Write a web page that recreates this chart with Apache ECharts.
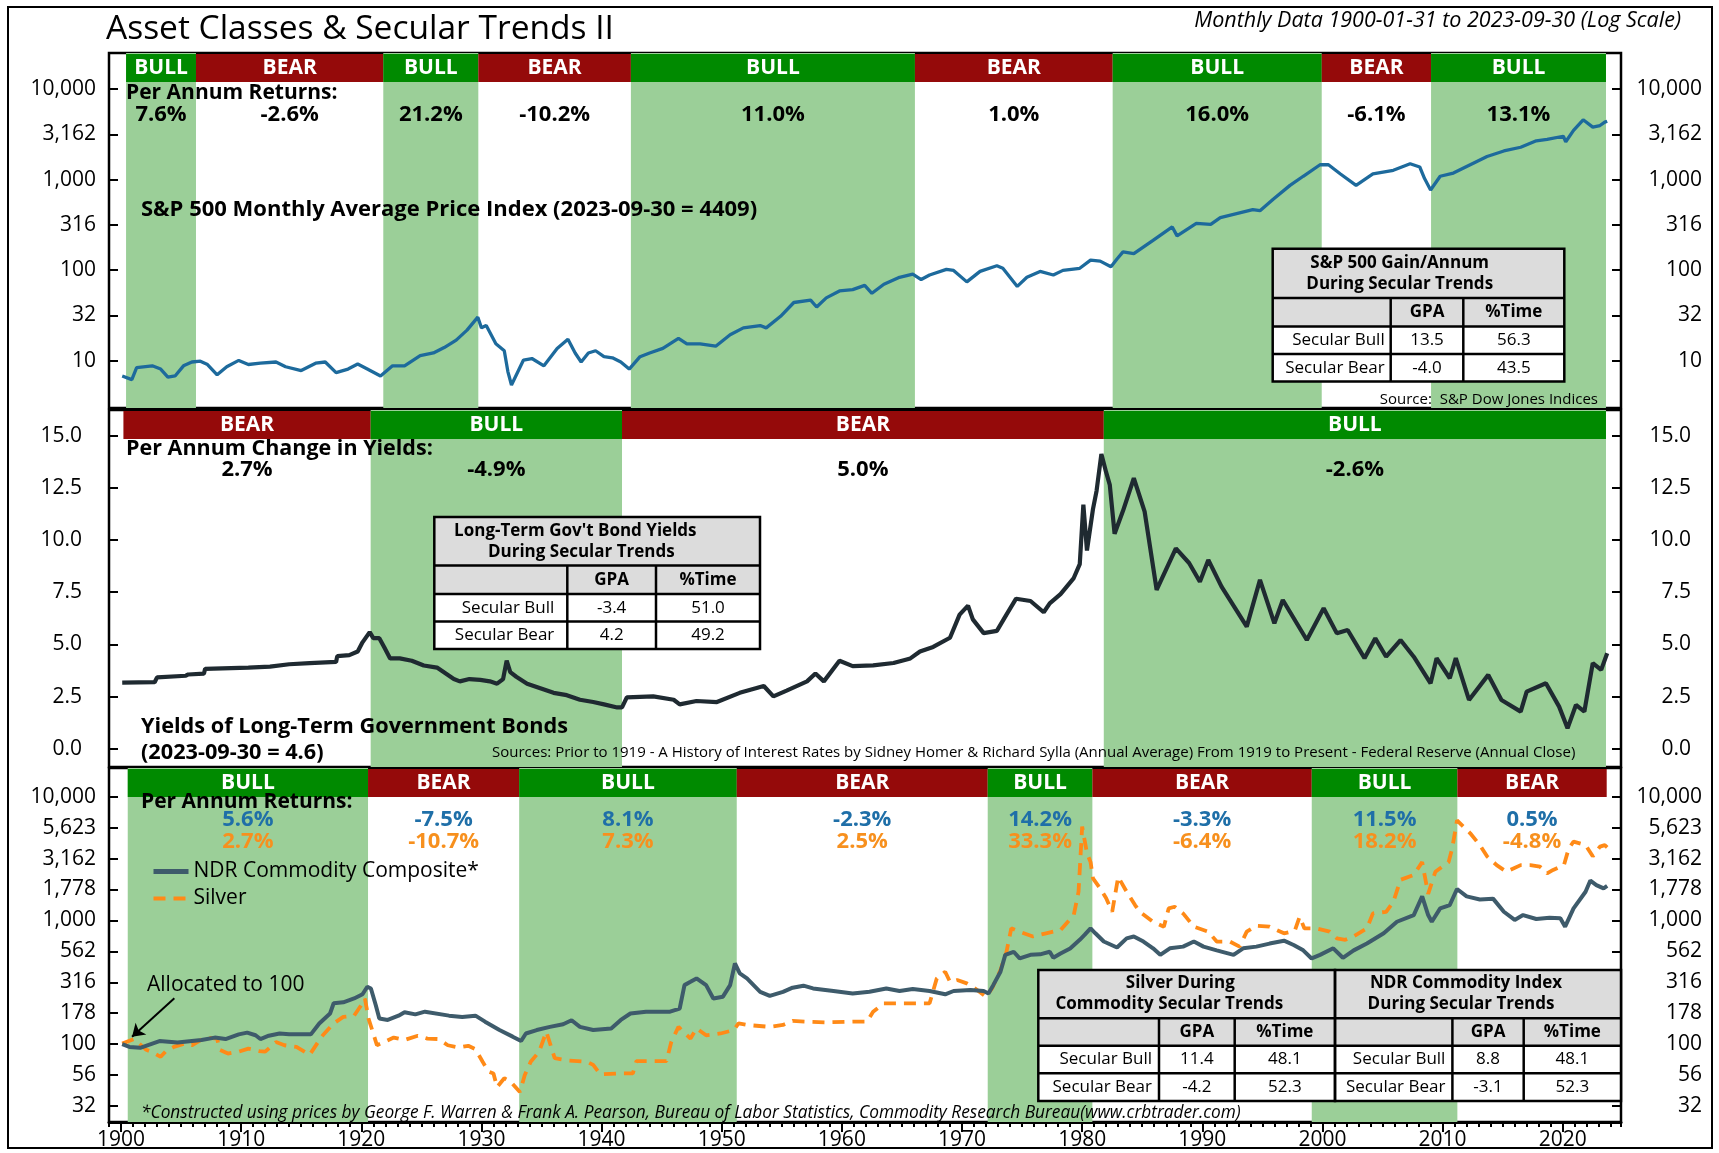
<!DOCTYPE html>
<html>
<head>
<meta charset="utf-8">
<title>Asset Classes &amp; Secular Trends II</title>
<script src="https://cdn.jsdelivr.net/npm/echarts@6/dist/echarts.min.js"></script>
<style>
  html, body { margin: 0; padding: 0; background: #fff; }
  #chart { width: 1719px; height: 1153px; }
</style>
</head>
<body>
<div id="chart"></div>
<script>
// ---- data ----
// S&P 500 monthly average price index (log scale)
const spData = [
  [1900.1, 6.8], [1900.9, 6.2], [1901.3, 8.4], [1902.6, 8.8], [1903.3, 8.1], [1903.9, 6.6], [1904.5, 6.8],
  [1905.2, 8.8], [1905.9, 9.7], [1906.6, 9.9], [1907.2, 9.1], [1908.0, 7.0], [1908.8, 8.6], [1909.8, 10.1],
  [1910.6, 9.1], [1911.6, 9.4], [1912.9, 9.7], [1913.7, 8.6], [1915.0, 7.8], [1916.2, 9.4], [1917.0, 9.7],
  [1917.9, 7.4], [1918.9, 8.1], [1919.7, 9.2], [1920.5, 8.1], [1921.6, 6.8], [1922.6, 8.8], [1923.6, 8.8],
  [1924.9, 11.4], [1926.0, 12.2], [1926.9, 14.0], [1927.9, 16.9], [1928.8, 21.8], [1929.7, 30.3], [1930.0, 23.1],
  [1930.4, 24.5], [1931.2, 15.4], [1931.9, 12.9], [1932.2, 7.6], [1932.5, 5.4], [1933.5, 10.2], [1934.2, 10.6],
  [1935.2, 8.8], [1936.3, 13.7], [1937.2, 17.3], [1937.8, 12.2], [1938.3, 9.7], [1938.9, 12.2], [1939.5, 12.9],
  [1940.2, 11.1], [1940.9, 10.8], [1941.6, 9.7], [1942.3, 8.1], [1943.2, 11.1], [1944.0, 12.2], [1945.1, 13.7],
  [1946.4, 17.7], [1947.1, 15.4], [1948.2, 15.4], [1949.5, 14.5], [1950.7, 19.4], [1951.8, 23.1], [1953.2, 24.5],
  [1953.7, 23.1], [1954.9, 31], [1956.0, 44], [1957.4, 46.7], [1957.9, 39.2], [1958.7, 49.5], [1959.8, 59],
  [1960.9, 61], [1961.9, 68], [1962.5, 55.6], [1963.5, 70], [1964.8, 83.5], [1965.9, 90.6], [1966.6, 78.8],
  [1967.3, 88.5], [1968.7, 102], [1969.3, 99.5], [1970.4, 74.3], [1971.5, 97], [1972.9, 112], [1973.4, 105],
  [1974.6, 66.2], [1975.4, 83.5], [1976.5, 97], [1977.6, 88.5], [1978.4, 99.5], [1979.8, 105], [1980.7, 129],
  [1981.5, 126], [1982.4, 109], [1982.9, 133], [1983.4, 159], [1984.3, 152], [1985.9, 213], [1987.5, 300],
  [1987.9, 239], [1989.5, 328], [1990.7, 320], [1991.5, 381], [1994.2, 465], [1994.8, 454], [1995.9, 608],
  [1997.3, 863], [1998.4, 1088], [1999.8, 1458], [2000.5, 1458], [2001.5, 1153], [2002.8, 863], [2004.2, 1153],
  [2005.9, 1267], [2007.3, 1494], [2008.1, 1377], [2008.5, 1027], [2009.0, 768], [2009.8, 1088], [2010.9, 1181],
  [2012.3, 1458], [2013.7, 1800], [2015.1, 2070], [2016.5, 2275], [2017.8, 2677], [2018.7, 2775], [2020.05, 3008],
  [2020.25, 2614], [2020.9, 3497], [2021.7, 4570], [2022.5, 3794], [2023.1, 3950], [2023.5, 4307], [2023.7, 4409]
];

// Long-term government bond yields (%)
const yieldData = [
  [1900.1, 3.17], [1902.8, 3.19], [1903.0, 3.42], [1905.4, 3.5], [1905.6, 3.56], [1906.9, 3.6], [1907.0, 3.83],
  [1910.6, 3.89], [1912.4, 3.94], [1914.0, 4.05], [1915.7, 4.1], [1917.9, 4.16], [1918.0, 4.44], [1919.0, 4.49],
  [1919.7, 4.66], [1920.1, 5.1], [1920.7, 5.59], [1921.0, 5.3], [1921.5, 5.3], [1921.9, 4.88], [1922.4, 4.33],
  [1923.2, 4.33], [1924.2, 4.22], [1925.2, 3.99], [1926.3, 3.89], [1927.7, 3.34], [1928.2, 3.23], [1929.0, 3.34],
  [1929.9, 3.3], [1930.7, 3.23], [1931.3, 3.12], [1931.8, 3.34], [1932.1, 4.22], [1932.4, 3.67], [1932.9, 3.45],
  [1933.8, 3.12], [1934.9, 2.9], [1936.0, 2.68], [1937.1, 2.57], [1938.2, 2.35], [1939.3, 2.24], [1940.2, 2.13],
  [1941.3, 1.98], [1941.7, 1.98], [1942.1, 2.46], [1944.3, 2.51], [1946.0, 2.35], [1946.5, 2.13], [1947.9, 2.29],
  [1949.6, 2.24], [1951.5, 2.68], [1953.5, 3.01], [1954.3, 2.51], [1955.4, 2.79], [1957.1, 3.23], [1957.8, 3.61],
  [1958.5, 3.23], [1959.8, 4.22], [1960.9, 3.96], [1962.6, 4.0], [1964.3, 4.11], [1965.7, 4.33], [1966.5, 4.66],
  [1967.6, 4.88], [1969.0, 5.32], [1969.8, 6.43], [1970.5, 6.86], [1970.9, 6.2], [1971.8, 5.54], [1972.9, 5.65],
  [1973.7, 6.43], [1974.5, 7.19], [1975.7, 7.08], [1976.8, 6.54], [1977.3, 6.97], [1978.2, 7.41], [1979.3, 8.18],
  [1979.8, 8.85], [1980.1, 11.7], [1980.4, 9.5], [1980.9, 11.48], [1981.2, 12.36], [1981.6, 14.12], [1982.0, 13.24],
  [1982.3, 12.64], [1982.7, 10.3], [1983.4, 11.4], [1984.3, 12.96], [1985.2, 11.36], [1986.2, 7.61], [1987.8, 9.6],
  [1988.9, 8.9], [1989.8, 8.0], [1990.5, 9.05], [1991.6, 7.77], [1993.7, 5.85], [1994.8, 8.09], [1996.0, 6.01],
  [1996.7, 7.13], [1998.7, 5.21], [2000.1, 6.73], [2001.2, 5.53], [2002.1, 5.69], [2003.5, 4.34], [2004.4, 5.29],
  [2005.3, 4.41], [2006.5, 5.21], [2007.6, 4.41], [2009.0, 3.14], [2009.5, 4.34], [2010.6, 3.38], [2011.1, 4.34],
  [2012.2, 2.34], [2013.8, 3.54], [2014.9, 2.34], [2016.5, 1.78], [2017.0, 2.74], [2018.6, 3.14], [2019.7, 2.02],
  [2020.4, 0.98], [2021.1, 2.1], [2021.8, 1.78], [2022.5, 4.1], [2023.2, 3.78], [2023.7, 4.58]
];

// NDR Commodity Composite (1900 = 100, log scale)
const ndrData = [
  [1900.1, 100], [1900.7, 95], [1901.6, 93.5], [1903.2, 106], [1904.7, 103], [1906.7, 108], [1907.8, 113],
  [1908.7, 110], [1909.8, 120], [1910.5, 124], [1911.2, 118], [1911.6, 110], [1912.3, 117], [1913.2, 122],
  [1914.0, 120], [1915.8, 120], [1916.5, 147], [1917.4, 177], [1917.7, 214], [1918.5, 218], [1919.4, 234],
  [1920.1, 253], [1920.5, 291], [1920.8, 282], [1921.2, 207], [1921.5, 161], [1922.2, 157], [1923.1, 170],
  [1923.6, 181], [1924.5, 174], [1925.3, 183], [1927.3, 170], [1928.4, 166], [1929.5, 170], [1930.3, 152],
  [1931.5, 130], [1932.6, 115], [1933.3, 106], [1933.7, 122], [1934.6, 130], [1935.7, 138], [1936.8, 145],
  [1937.5, 156], [1938.2, 138], [1939.3, 130], [1940.8, 134], [1941.6, 157], [1942.4, 177], [1943.7, 183],
  [1945.7, 183], [1946.5, 194], [1946.9, 300], [1947.4, 319], [1947.9, 340], [1948.7, 300], [1949.3, 234],
  [1950.1, 242], [1950.7, 300], [1951.1, 450], [1951.5, 373], [1952.1, 340], [1953.2, 265], [1954.0, 246],
  [1955.1, 265], [1955.9, 286], [1956.8, 297], [1957.6, 282], [1959.3, 269], [1960.9, 257], [1962.3, 265],
  [1963.7, 282], [1964.8, 269], [1965.9, 279], [1967.3, 269], [1968.6, 253], [1969.3, 269], [1970.7, 274],
  [1971.8, 269], [1972.2, 257], [1972.6, 300], [1973.2, 385], [1973.6, 527], [1974.3, 558], [1974.8, 493],
  [1975.7, 527], [1976.5, 532], [1977.3, 558], [1977.6, 499], [1978.2, 540], [1979.0, 593], [1979.8, 697],
  [1980.2, 763], [1980.7, 863], [1981.1, 787], [1981.8, 675], [1982.9, 604], [1983.7, 716], [1984.3, 742],
  [1985.1, 675], [1985.9, 595], [1986.5, 527], [1987.3, 595], [1988.4, 614], [1989.3, 675], [1990.1, 614],
  [1991.2, 573], [1992.6, 527], [1993.4, 595], [1994.5, 614], [1995.6, 650], [1996.8, 686], [1997.6, 633],
  [1998.4, 573], [1999.1, 493], [1999.8, 527], [2000.9, 595], [2001.7, 499], [2002.6, 573], [2003.7, 650],
  [2005.1, 787], [2006.2, 976], [2007.6, 1105], [2008.3, 1565], [2008.8, 1105], [2009.1, 976], [2009.8, 1250],
  [2010.6, 1332], [2011.2, 1794], [2012.0, 1565], [2013.1, 1478], [2014.2, 1500], [2015.1, 1175], [2016.0, 1010],
  [2016.7, 1105], [2017.8, 1027], [2018.9, 1050], [2019.8, 1040], [2020.2, 890], [2020.9, 1250], [2021.9, 1706],
  [2022.3, 2100], [2022.8, 1931], [2023.4, 1814], [2023.7, 1900]
];

// Silver (1900 = 100, log scale)
const silverData = [
  [1900.1, 101], [1901.1, 110], [1902.1, 90], [1902.5, 87], [1903.3, 79], [1903.7, 87], [1904.4, 95],
  [1905.3, 101], [1905.9, 98], [1907.0, 113], [1908.0, 111], [1908.2, 90], [1908.9, 84], [1909.8, 87],
  [1910.6, 92], [1911.5, 88], [1912.0, 87], [1912.9, 104], [1913.6, 98], [1914.6, 95], [1915.7, 82],
  [1916.4, 104], [1916.8, 118], [1917.7, 147], [1918.5, 166], [1919.4, 170], [1920.1, 214], [1920.3, 234],
  [1920.6, 161], [1921.0, 122], [1921.3, 98], [1921.9, 104], [1922.7, 113], [1923.6, 108], [1924.7, 117],
  [1925.5, 111], [1926.4, 110], [1927.2, 98], [1928.1, 94], [1928.9, 97], [1929.5, 91], [1930.1, 72],
  [1930.6, 60], [1931.0, 58], [1931.3, 45], [1931.9, 53], [1932.4, 50], [1933.2, 41], [1933.6, 56],
  [1934.1, 72], [1934.8, 87], [1935.4, 126], [1936.1, 77], [1937.1, 74], [1938.8, 72], [1939.3, 68],
  [1939.9, 57], [1941.6, 58], [1942.6, 58], [1942.9, 73], [1945.4, 73], [1945.8, 104], [1946.4, 138],
  [1946.8, 126], [1947.4, 111], [1947.9, 134], [1948.7, 118], [1949.9, 122], [1951.0, 130], [1951.4, 147],
  [1952.1, 143], [1954.0, 138], [1955.1, 143], [1955.9, 154], [1957.1, 152], [1958.7, 150], [1960.9, 152],
  [1962.1, 152], [1962.6, 183], [1963.5, 214], [1967.3, 214], [1967.9, 340], [1968.6, 385], [1969.0, 319],
  [1969.6, 330], [1970.4, 310], [1970.9, 291], [1972.0, 242], [1972.5, 282], [1973.2, 397], [1973.7, 558],
  [1974.1, 863], [1974.8, 811], [1975.9, 742], [1977.0, 787], [1978.2, 836], [1979.3, 1105], [1979.7, 1706],
  [1980.0, 5730], [1980.4, 3490], [1980.7, 2960], [1980.9, 2187], [1981.5, 1814], [1982.0, 1510], [1982.5, 1175],
  [1983.0, 2250], [1983.7, 1706], [1984.4, 1332], [1984.8, 1175], [1985.9, 976], [1986.8, 890], [1987.2, 1250],
  [1987.7, 1290], [1988.4, 1140], [1989.3, 890], [1990.5, 811], [1991.2, 675], [1992.3, 675], [1993.1, 614],
  [1993.7, 811], [1994.5, 905], [1995.6, 890], [1996.8, 787], [1997.7, 825], [1998.1, 1070], [1998.5, 862],
  [1999.5, 862], [2000.6, 811], [2001.2, 716], [2001.9, 697], [2002.6, 742], [2003.7, 862], [2004.2, 1140],
  [2005.3, 1175], [2005.9, 1415], [2006.5, 2130], [2007.6, 2330], [2008.3, 2960], [2008.8, 1640], [2009.4, 2475],
  [2010.5, 2960], [2010.8, 3820], [2011.2, 6440], [2012.3, 5060], [2013.1, 4064], [2013.7, 3300], [2014.5, 2800],
  [2015.3, 2475], [2016.5, 2800], [2017.3, 2800], [2018.1, 2720], [2018.7, 2400], [2019.2, 2560], [2020.1, 2800],
  [2020.5, 3820], [2020.9, 4330], [2021.9, 4064], [2022.5, 3300], [2023.1, 3950], [2023.5, 4064], [2023.7, 3900]
];

// secular trend periods (boundary years), labels and per-annum figures
const spBounds = [1900.42, 1906.24, 1921.83, 1929.74, 1942.44, 1966.08, 1982.54, 1999.94, 2009.04, 2023.6];
const spTrends = ['BULL', 'BEAR', 'BULL', 'BEAR', 'BULL', 'BEAR', 'BULL', 'BEAR', 'BULL'];
const spReturns = ['7.6%', '-2.6%', '21.2%', '-10.2%', '11.0%', '1.0%', '16.0%', '-6.1%', '13.1%'];

const ylBounds = [1900.2, 1920.78, 1941.7, 1981.8, 2023.6];
const ylTrends = ['BEAR', 'BULL', 'BEAR', 'BULL'];
const ylChanges = ['2.7%', '-4.9%', '5.0%', '-2.6%'];

const cmdBounds = [1900.56, 1920.56, 1933.14, 1951.25, 1972.14, 1980.85, 1999.11, 2011.23, 2023.66];
const cmdTrends = ['BULL', 'BEAR', 'BULL', 'BEAR', 'BULL', 'BEAR', 'BULL', 'BEAR'];
const ndrReturns = ['5.6%', '-7.5%', '8.1%', '-2.3%', '14.2%', '-3.3%', '11.5%', '0.5%'];
const silverReturns = ['2.7%', '-10.7%', '7.3%', '2.5%', '33.3%', '-6.4%', '18.2%', '-4.8%'];

// axis ticks and labels
const spTickValues = [10, 31.62, 100, 316.2, 1000, 3162, 10000];
const spTickLabels = ['10', '32', '100', '316', '1,000', '3,162', '10,000'];
const ylTickValues = [0, 2.5, 5, 7.5, 10, 12.5, 15];
const ylTickLabels = ['0.0', '2.5', '5.0', '7.5', '10.0', '12.5', '15.0'];
const cmdTickValues = [31.62, 56.23, 100, 177.8, 316.2, 562.3, 1000, 1778, 3162, 5623, 10000];
const cmdTickLabels = ['32', '56', '100', '178', '316', '562', '1,000', '1,778', '3,162', '5,623', '10,000'];
const decadeTicks = [1900, 1910, 1920, 1930, 1940, 1950, 1960, 1970, 1980, 1990, 2000, 2010, 2020];
const decadeLabels = ['1900', '1910', '1920', '1930', '1940', '1950', '1960', '1970', '1980', '1990', '2000', '2010', '2020'];

// tables
const spTableTitle = ['S&P 500 Gain/Annum', 'During Secular Trends'];
const spTableRows = [['', 'GPA', '%Time'], ['Secular Bull', '13.5', '56.3'], ['Secular Bear', '-4.0', '43.5']];
const bondTableTitle = ["Long-Term Gov't Bond Yields", 'During Secular Trends'];
const bondTableRows = [['', 'GPA', '%Time'], ['Secular Bull', '-3.4', '51.0'], ['Secular Bear', '4.2', '49.2']];
const silverTableTitle = ['Silver During', 'Commodity Secular Trends'];
const silverTableRows = [['', 'GPA', '%Time'], ['Secular Bull', '11.4', '48.1'], ['Secular Bear', '-4.2', '52.3']];
const ndrTableTitle = ['NDR Commodity Index', 'During Secular Trends'];
const ndrTableRows = [['', 'GPA', '%Time'], ['Secular Bull', '8.8', '48.1'], ['Secular Bear', '-3.1', '52.3']];

// ---- styling ----
const FONT = '"Open Sans", "Noto Sans", "DejaVu Sans", sans-serif';
const BAND = '#9bcf98';
const BULL_BAR = '#008a00';
const BEAR_BAR = '#950a0a';
const SP_BLUE = '#1d6a9c';
const YIELD_DARK = '#1f2a31';
const NDR_SLATE = '#3e5b6b';
const SILVER_ORANGE = '#ff8a17';
const TXT_BLUE = '#1f6fa8';
const TXT_ORANGE = '#f7901e';
const X_MIN = 1899.0, X_MAX = 2024.85;

const chart = echarts.init(document.getElementById('chart'));

function font(size, weight, style) {
  return (style || 'normal') + ' ' + (weight || 'normal') + ' ' + size + 'px ' + FONT;
}

function txt(text, x, y, size, opt) {
  opt = opt || {};
  return {
    type: 'text', z: 60, silent: true,
    style: {
      text: text, x: x, y: y, font: font(size, opt.weight, opt.style),
      fill: opt.color || '#000', align: opt.align || 'left', verticalAlign: 'middle'
    }
  };
}

function nearestLabel(values, labels, isLog) {
  return function (v) {
    let best = 0, bestD = Infinity;
    values.forEach(function (t, i) {
      const d = isLog ? Math.abs(Math.log10(t) - Math.log10(v)) : Math.abs(t - v);
      if (d < bestD) { bestD = d; best = i; }
    });
    return labels[best];
  };
}

function yAxisPair(gi, type, min, max, ticks, labels, leftMargin, rightMargin) {
  const base = {
    gridIndex: gi, type: type, min: min, max: max,
    axisLine: { show: false, onZero: false },
    axisTick: { show: true, inside: true, length: 9, customValues: ticks, lineStyle: { color: '#000', width: 2 } },
    splitLine: { show: false },
    minorTick: { show: false }
  };
  if (type === 'log') base.logBase = 10;
  const lab = {
    customValues: ticks, formatter: nearestLabel(ticks, labels, type === 'log'),
    color: '#000', fontSize: 21, fontFamily: FONT
  };
  return [
    Object.assign({}, base, { position: 'left', axisLabel: Object.assign({}, lab, { margin: leftMargin }) }),
    Object.assign({}, base, { position: 'right', axisLabel: Object.assign({}, lab, { margin: rightMargin, align: 'right' }) })
  ];
}

function periodPairs(bounds) {
  return bounds.slice(0, -1).map(function (b, i) { return [b, bounds[i + 1]]; });
}

// light green background for bull periods
function bandSeries(xi, yi, bounds, trends, yRef) {
  return {
    type: 'custom', xAxisIndex: xi, yAxisIndex: yi, silent: true, z: 1,
    data: periodPairs(bounds),
    renderItem: function (params, api) {
      if (trends[params.dataIndex] !== 'BULL') return null;
      const cs = params.coordSys;
      const x0 = api.coord([api.value(0), yRef])[0];
      const x1 = api.coord([api.value(1), yRef])[0];
      return { type: 'rect', shape: { x: x0, y: cs.y, width: x1 - x0, height: cs.height }, style: { fill: BAND } };
    }
  };
}

// BULL / BEAR header bars plus the per-annum figures under them
function headerSeries(xi, yi, bounds, trends, yRef, figureRows) {
  return {
    type: 'custom', xAxisIndex: xi, yAxisIndex: yi, silent: true, z: 5,
    data: periodPairs(bounds),
    renderItem: function (params, api) {
      const i = params.dataIndex;
      const cs = params.coordSys;
      const x0 = api.coord([api.value(0), yRef])[0];
      const x1 = api.coord([api.value(1), yRef])[0];
      const cx = (x0 + x1) / 2;
      const children = [
        { type: 'rect', shape: { x: x0, y: cs.y + 1, width: x1 - x0, height: 28 },
          style: { fill: trends[i] === 'BULL' ? BULL_BAR : BEAR_BAR } },
        { type: 'text', style: { text: trends[i], x: cx, y: cs.y + 15.5, align: 'center', verticalAlign: 'middle',
          fill: '#fff', font: font(21, 'bold') } }
      ];
      figureRows.forEach(function (row) {
        children.push({ type: 'text', style: { text: row.values[i], x: cx, y: cs.y + row.dy, align: 'center',
          verticalAlign: 'middle', fill: row.color, font: font(22, 'bold') } });
      });
      return { type: 'group', children: children };
    }
  };
}

function table(x, y, colW, rowH, titleLines, titleDx, titleDy, rows, pad) {
  const els = [];
  const W = colW.reduce(function (a, b) { return a + b; }, 0);
  const H = rowH.reduce(function (a, b) { return a + b; }, 0);
  const yHead = y + rowH[0];
  const yBody = yHead + rowH[1];
  els.push({ type: 'rect', z: 55, silent: true, shape: { x: x, y: y, width: W, height: rowH[0] + rowH[1] }, style: { fill: '#dcdcdc' } });
  els.push({ type: 'rect', z: 55, silent: true, shape: { x: x, y: yBody, width: W, height: y + H - yBody }, style: { fill: '#fff' } });
  let yy = y;
  for (let r = 1; r < rowH.length; r++) {
    yy += rowH[r - 1];
    els.push({ type: 'line', z: 56, silent: true, shape: { x1: x, y1: yy, x2: x + W, y2: yy }, style: { stroke: '#000', lineWidth: 2.5 } });
  }
  let xx = x;
  for (let c = 1; c < colW.length; c++) {
    xx += colW[c - 1];
    els.push({ type: 'line', z: 56, silent: true, shape: { x1: xx, y1: yHead, x2: xx, y2: y + H }, style: { stroke: '#000', lineWidth: 2.5 } });
  }
  els.push({ type: 'rect', z: 57, silent: true, shape: { x: x, y: y, width: W, height: H }, style: { fill: 'none', stroke: '#000', lineWidth: 2.5 } });
  titleLines.forEach(function (t, i) {
    els.push(txt(t, x + titleDx[i], y + titleDy[i], 17, { weight: 'bold', align: 'center' }));
  });
  let top = yHead;
  rows.forEach(function (row, r) {
    const cy = top + rowH[r + 1] / 2;
    let cx = x;
    row.forEach(function (cell, c) {
      if (cell) {
        if (c === 0) els.push(txt(cell, cx + colW[0] - pad, cy, 17, { align: 'right' }));
        else els.push(txt(cell, cx + colW[c] / 2, cy, 17, { align: 'center', weight: r === 0 ? 'bold' : 'normal' }));
      }
      cx += colW[c];
    });
    top += rowH[r + 1];
  });
  return els;
}

const TOP_MIN = 3.013, TOP_MAX = 24950;
const MID_MIN = -0.872, MID_MAX = 16.23;
const BOT_MIN = 23.49, BOT_MAX = 17060;

const gridBase = { left: 109, width: 1512, show: true, borderColor: '#000', borderWidth: 2.5, backgroundColor: '#fff' };

const graphics = [].concat(
  [
    { type: 'rect', z: 0, silent: true, shape: { x: 8, y: 7, width: 1704, height: 1141 }, style: { fill: 'none', stroke: '#000', lineWidth: 2 } },
    txt('Asset Classes & Secular Trends II', 106, 29, 33.5),
    txt('Monthly Data 1900-01-31 to 2023-09-30 (Log Scale)', 1681, 21, 21.5, { style: 'italic', align: 'right' }),
    txt('Per Annum Returns:', 126, 93, 21, { weight: 'bold' }),
    txt('S&P 500 Monthly Average Price Index (2023-09-30 = 4409)', 141, 210, 22, { weight: 'bold' }),
    txt('Source:  S&P Dow Jones Indices', 1598, 400, 15, { align: 'right' }),
    txt('Per Annum Change in Yields:', 126, 449, 21.5, { weight: 'bold' }),
    txt('Yields of Long-Term Government Bonds', 141, 727, 21.7, { weight: 'bold' }),
    txt('(2023-09-30 = 4.6)', 141, 753, 21.7, { weight: 'bold' }),
    txt('Sources: Prior to 1919 - A History of Interest Rates by Sidney Homer & Richard Sylla (Annual Average) From 1919 to Present - Federal Reserve (Annual Close)', 492, 753, 15),
    txt('Per Annum Returns:', 141, 802, 21, { weight: 'bold' }),
    txt('Allocated to 100', 147, 985, 21),
    txt('*Constructed using prices by George F. Warren & Frank A. Pearson, Bureau of Labor Statistics, Commodity Research Bureau(www.crbtrader.com)', 141, 1113, 17.3, { style: 'italic' })
  ],
  table(1272.7, 248.8, [118, 72.6, 101], [49.2, 28.4, 27.6, 27.5], spTableTitle, [127, 127], [14.7, 35.8], spTableRows, 6),
  table(434.3, 517, [133, 88.7, 104], [48.6, 28.4, 27.6, 27.4], bondTableTitle, [141, 147], [14, 35], bondTableRows, 13),
  table(1038.3, 970, [120.7, 75.7, 100.3], [48.3, 27.4, 27.6, 27.7], silverTableTitle, [142, 131], [12.7, 34], silverTableRows, 7),
  table(1335, 970, [117.4, 71.3, 97.3], [48.3, 27.4, 27.6, 27.7], ndrTableTitle, [131, 126], [12.7, 34], ndrTableRows, 7)
);

const option = {
  animation: false,
  backgroundColor: '#fff',
  textStyle: { fontFamily: FONT },
  grid: [
    Object.assign({}, gridBase, { top: 53, height: 355 }),
    Object.assign({}, gridBase, { top: 410, height: 357 }),
    Object.assign({}, gridBase, { top: 768, height: 354 })
  ],
  xAxis: [
    { gridIndex: 0, type: 'value', min: X_MIN, max: X_MAX, show: false, axisLine: { onZero: false } },
    { gridIndex: 1, type: 'value', min: X_MIN, max: X_MAX, show: false, axisLine: { onZero: false } },
    {
      gridIndex: 2, type: 'value', min: X_MIN, max: X_MAX, interval: 1, position: 'bottom',
      axisLine: { show: true, onZero: false, lineStyle: { color: '#000', width: 3 } },
      axisTick: { show: true, length: 5, lineStyle: { color: '#000', width: 2 } },
      axisLabel: { customValues: decadeTicks, formatter: nearestLabel(decadeTicks, decadeLabels, false),
        color: '#000', fontSize: 21, fontFamily: FONT, margin: 8 },
      splitLine: { show: false }
    },
    {
      gridIndex: 2, type: 'value', min: X_MIN, max: X_MAX, position: 'bottom',
      axisLine: { show: false, onZero: false },
      axisTick: { show: true, length: 10, customValues: decadeTicks, lineStyle: { color: '#000', width: 2 } },
      axisLabel: { show: false },
      splitLine: { show: false }
    }
  ],
  yAxis: [].concat(
    yAxisPair(0, 'log', TOP_MIN, TOP_MAX, spTickValues, spTickLabels, 13, 81),
    yAxisPair(1, 'value', MID_MIN, MID_MAX, ylTickValues, ylTickLabels, 27, 70),
    yAxisPair(2, 'log', BOT_MIN, BOT_MAX, cmdTickValues, cmdTickLabels, 13, 81)
  ),
  legend: {
    data: [
      { name: 'NDR Commodity Composite*', itemStyle: { opacity: 0 }, lineStyle: { width: 5, color: NDR_SLATE } },
      { name: 'Silver', itemStyle: { opacity: 0 }, lineStyle: { width: 4, color: SILVER_ORANGE, type: [12, 8] } }
    ],
    orient: 'vertical', left: 146, top: 856, itemWidth: 35, itemHeight: 14, itemGap: 6,
    selectedMode: false,
    textStyle: { fontSize: 21, fontFamily: FONT, color: '#000' }
  },
  graphic: graphics,
  series: [
    bandSeries(0, 0, spBounds, spTrends, 100),
    { type: 'line', name: 'S&P 500', xAxisIndex: 0, yAxisIndex: 0, data: spData, symbol: 'none', silent: true, z: 3,
      color: SP_BLUE, lineStyle: { color: SP_BLUE, width: 3.3 } },
    headerSeries(0, 0, spBounds, spTrends, 100, [{ values: spReturns, dy: 61.5, color: '#000' }]),

    bandSeries(1, 2, ylBounds, ylTrends, 5),
    { type: 'line', name: 'Yields', xAxisIndex: 1, yAxisIndex: 2, data: yieldData, symbol: 'none', silent: true, z: 3,
      color: YIELD_DARK, lineStyle: { color: YIELD_DARK, width: 4.2 } },
    headerSeries(1, 2, ylBounds, ylTrends, 5, [{ values: ylChanges, dy: 60, color: '#000' }]),

    bandSeries(2, 4, cmdBounds, cmdTrends, 100),
    { type: 'line', name: 'NDR Commodity Composite*', xAxisIndex: 2, yAxisIndex: 4, data: ndrData, symbol: 'none',
      silent: true, z: 4, color: NDR_SLATE, lineStyle: { color: NDR_SLATE, width: 4 },
      markLine: {
        silent: true, symbol: ['none', 'arrow'], symbolSize: 12, label: { show: false },
        lineStyle: { color: '#000', width: 2, type: 'solid' },
        data: [[{ coord: [1904.44, 235] }, { coord: [1900.92, 115] }]]
      } },
    { type: 'line', name: 'Silver', xAxisIndex: 2, yAxisIndex: 4, data: silverData, symbol: 'none', silent: true, z: 3,
      color: SILVER_ORANGE, lineStyle: { color: SILVER_ORANGE, width: 3.8, type: [12, 8] } },
    headerSeries(2, 4, cmdBounds, cmdTrends, 100, [
      { values: ndrReturns, dy: 52, color: TXT_BLUE },
      { values: silverReturns, dy: 74, color: TXT_ORANGE }
    ])
  ]
};

chart.setOption(option);
</script>
</body>
</html>
